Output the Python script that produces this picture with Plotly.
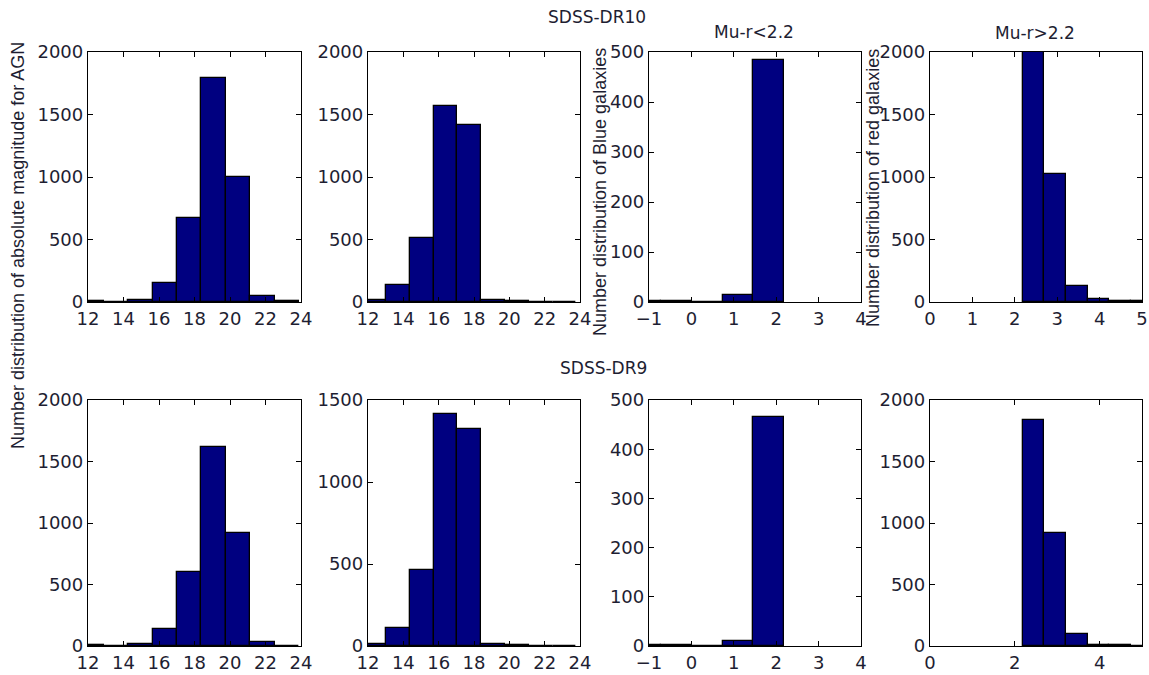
import plotly.graph_objects as go

# ---- histogram data (bin edges and counts per panel) ----
# SDSS-DR10, absolute magnitude
dr10_mag_edges = [11.52, 12.90, 14.27, 15.64, 17.02, 18.39, 19.77, 21.14, 22.52, 23.89]
dr10_mag_counts = [8, 0, 20, 150, 670, 1790, 1000, 48, 8]
# SDSS-DR10, apparent magnitude
dr10_app_edges = [11.64, 13.00, 14.36, 15.71, 17.05, 18.40, 19.75, 21.10, 22.45, 23.80]
dr10_app_counts = [20, 135, 515, 1570, 1415, 18, 6, 0, 0]
# SDSS-DR10, blue galaxies (u-r < 2.2)
dr10_blue_edges = [-1.45, -0.72, 0.01, 0.74, 1.46, 2.19]
dr10_blue_counts = [2, 2, 0, 15, 484]
# SDSS-DR10, red galaxies (u-r > 2.2)
dr10_red_edges = [2.19, 2.70, 3.21, 3.72, 4.23, 4.74, 5.25]
dr10_red_counts = [2000, 1025, 128, 22, 8, 5]

# SDSS-DR9
dr9_mag_edges = dr10_mag_edges
dr9_mag_counts = [5, 0, 15, 135, 600, 1620, 920, 30, 3]
dr9_app_edges = dr10_app_edges
dr9_app_counts = [15, 112, 463, 1415, 1325, 12, 5, 0, 0]
dr9_blue_edges = dr10_blue_edges
dr9_blue_counts = [2, 2, 0, 11, 466]
dr9_red_edges = dr10_red_edges
dr9_red_counts = [1835, 920, 97, 6, 5, 4]

# tick values
mag_xticks = [12, 14, 16, 18, 20, 22, 24]
color_xticks = [-1, 0, 1, 2, 3, 4]
red_xticks_top = [0, 1, 2, 3, 4, 5]
red_xticks_bottom = [0, 2, 4]
yticks_2000 = [0, 500, 1000, 1500, 2000]
yticks_1500 = [0, 500, 1000, 1500]
yticks_500 = [0, 100, 200, 300, 400, 500]

panels = [
    (dr10_mag_edges, dr10_mag_counts, [12, 24], mag_xticks, [0, 2000], yticks_2000),
    (dr10_app_edges, dr10_app_counts, [12, 24], mag_xticks, [0, 2000], yticks_2000),
    (dr10_blue_edges, dr10_blue_counts, [-1, 4], color_xticks, [0, 500], yticks_500),
    (dr10_red_edges, dr10_red_counts, [0, 5], red_xticks_top, [0, 2000], yticks_2000),
    (dr9_mag_edges, dr9_mag_counts, [12, 24], mag_xticks, [0, 2000], yticks_2000),
    (dr9_app_edges, dr9_app_counts, [12, 24], mag_xticks, [0, 1500], yticks_1500),
    (dr9_blue_edges, dr9_blue_counts, [-1, 4], color_xticks, [0, 500], yticks_500),
    (dr9_red_edges, dr9_red_counts, [0, 5], red_xticks_bottom, [0, 2000], yticks_2000),
]

W, H = 1149, 675
col_px = [(88, 301), (368, 580), (649, 861), (930, 1142)]
row_px = [(52, 302), (400, 646)]

TICK_FONT = "DejaVu Sans, sans-serif"
LABEL_FONT = "Liberation Sans, Arial, sans-serif"
TEXT = "#1e1e32"
BAR = "#000080"

fig = go.Figure()
layout = {}
for i, (edges, counts, xr, xt, yr, yt) in enumerate(panels):
    r, c = divmod(i, 4)
    n = i + 1
    sx = "" if n == 1 else str(n)
    centers = [(a + b) / 2 for a, b in zip(edges[:-1], edges[1:])]
    widths = [b - a for a, b in zip(edges[:-1], edges[1:])]
    fig.add_trace(go.Bar(
        x=centers, y=counts, width=widths,
        marker=dict(color=BAR, line=dict(color="black", width=1.3)),
        xaxis="x" + sx, yaxis="y" + sx, showlegend=False,
    ))
    x0, x1 = col_px[c]
    y0, y1 = row_px[r]
    common = dict(showline=True, linecolor="black", linewidth=1.3, mirror="ticks",
                  ticks="inside", ticklen=5, tickcolor="black", showgrid=False,
                  zeroline=False, automargin=False,
                  tickfont=dict(family=TICK_FONT, size=18, color=TEXT))
    layout["xaxis" + sx] = dict(domain=[x0 / W, x1 / W], range=xr, tickvals=xt,
                                anchor="y" + sx, **common)
    layout["yaxis" + sx] = dict(domain=[1 - y1 / H, 1 - y0 / H], range=yr, tickvals=yt,
                                anchor="x" + sx, **common)

fig.update_layout(**layout)

def label(text, x, y, size=17, angle=0, family=TICK_FONT):
    fig.add_annotation(text=text, x=x / W, y=1 - y / H, xref="paper", yref="paper",
                       showarrow=False, textangle=angle, xanchor="center", yanchor="middle",
                       font=dict(family=family, size=size, color=TEXT))

label("SDSS-DR10", 597, 17)
label("SDSS-DR9", 603, 368)
label("Mu-r<2.2", 754, 32)
label("Mu-r>2.2", 1035, 33)
label("Number distribution of absolute magnitude for AGN", 18, 246, size=18, angle=-90,
      family=LABEL_FONT)
label("Number distribution of Blue galaxies", 600, 192, size=18, angle=-90, family=LABEL_FONT)
label("Number distribution of red galaxies", 873, 188, size=18, angle=-90, family=LABEL_FONT)

fig.update_layout(width=W, height=H, margin=dict(l=0, r=0, t=0, b=0, autoexpand=False),
                  paper_bgcolor="white", plot_bgcolor="white", bargap=0)

fig.write_html("out.html")
